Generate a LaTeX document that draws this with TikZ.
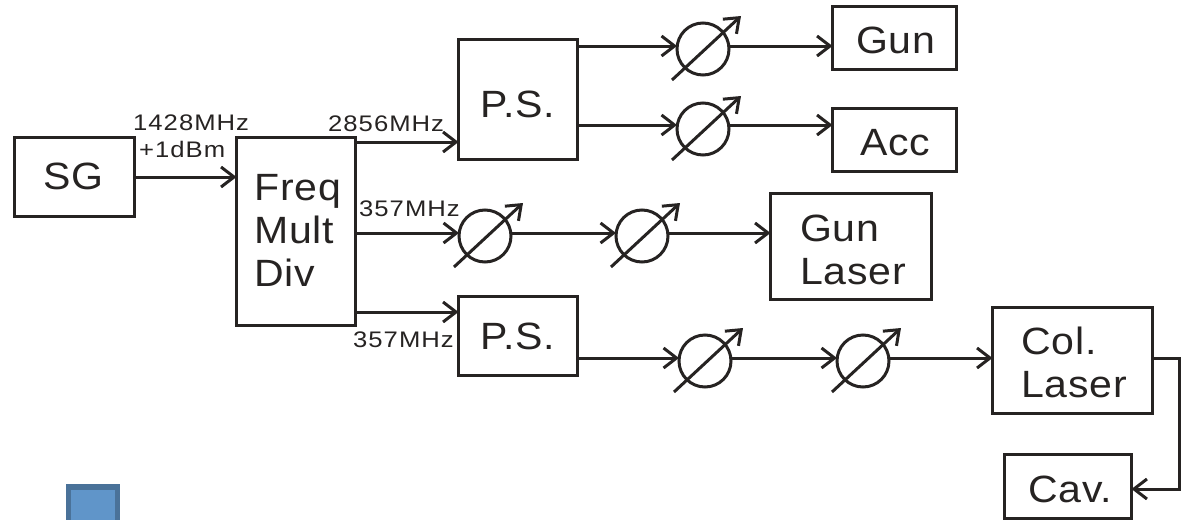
\documentclass[tikz,border=0pt]{standalone}
\usepackage{fontspec}
\setmainfont{Liberation Sans}[FakeStretch=1.08,LetterSpace=2]
\newfontfamily\labelfont{Liberation Sans}[FakeStretch=1.14,LetterSpace=4.5]
\usetikzlibrary{arrows.meta,calc}
\definecolor{ink}{HTML}{262322}
\definecolor{blueedge}{HTML}{4A7299}
\definecolor{bluefill}{HTML}{6095C9}
\tikzset{
  x=1pt,y=-1pt,
  wire/.style={draw=ink,line width=3pt,-{Straight Barb[length=13pt,width=20pt,line width=3pt]}},
  blockbox/.style={draw=ink,line width=3pt,inner sep=0pt,outer sep=0pt,anchor=north west},
  shifter/.style={draw=ink,line width=3pt,circle,inner sep=0pt,outer sep=0pt,minimum size=52pt},
  biglabel/.style={text=ink,inner sep=0pt,anchor=base west,align=left,font=\fontsize{38}{43}\selectfont},
  smalllabel/.style={text=ink,inner sep=0pt,anchor=base west,font=\labelfont\fontsize{22.5}{24}\selectfont},
}
\newcommand{\mybox}[5]{\node[blockbox,minimum width=#4pt,minimum height=#5pt] (#1) at (#2,#3) {};}
\newcommand{\myshift}[3]{%
  \node[shifter] (#1) at (#2,#3) {};
  \draw[wire] ($(#1.center)+(-31,31)$) -- ($(#1.center)+(38,-33)$);}
\begin{document}
\begin{tikzpicture}
\useasboundingbox (0,0) rectangle (1187,520);
% row levels
\coordinate (r0) at (0,177);
\coordinate (r1) at (0,46);
\coordinate (r2) at (0,125);
\coordinate (r3) at (0,142);
\coordinate (r4) at (0,233);
\coordinate (r5) at (0,312);
\coordinate (r6) at (0,358);
\coordinate (r7) at (0,489);
% boxes
\mybox{sg}{14.5}{137.5}{120}{79}
\mybox{freq}{236.5}{137.5}{119}{188}
\mybox{psa}{458.5}{39.5}{119}{120}
\mybox{psb}{458.5}{296.5}{119}{79}
\mybox{gun}{832.5}{6.5}{124}{63}
\mybox{acc}{832.5}{108.5}{124}{63}
\mybox{gl}{770.5}{193.5}{161}{106}
\mybox{cl}{992.5}{307.5}{160}{106}
\mybox{cav}{1004.5}{454.5}{127}{64}
% phase shifters
\myshift{a}{703}{49}
\myshift{b}{703}{129}
\myshift{c}{485}{236}
\myshift{d}{642}{236}
\myshift{e}{705}{361}
\myshift{f}{863}{361}
% connectors
\draw[wire] (sg.east |- r0) -- (freq.west |- r0);
\draw[wire] (freq.east |- r3) -- (psa.west |- r3);
\draw[wire] (freq.east |- r4) -- (c.west |- r4);
\draw[wire] (freq.east |- r5) -- (psb.west |- r5);
\draw[wire] (psa.east |- r1) -- (a.west |- r1);
\draw[wire] (a.east |- r1) -- (gun.west |- r1);
\draw[wire] (psa.east |- r2) -- (b.west |- r2);
\draw[wire] (b.east |- r2) -- (acc.west |- r2);
\draw[wire] (c.east |- r4) -- (d.west |- r4);
\draw[wire] (d.east |- r4) -- (gl.west |- r4);
\draw[wire] (psb.east |- r6) -- (e.west |- r6);
\draw[wire] (e.east |- r6) -- (f.west |- r6);
\draw[wire] (f.east |- r6) -- (cl.west |- r6);
\coordinate (turn) at (1179,0);
\draw[wire] (cl.east |- r6) -- (turn |- r6) -- (turn |- r7) -- (cav.east |- r7);
% labels
\node[biglabel] (tsg) at (43,189) {SG};
\node[biglabel] (tfreq) at (254,286) {Freq\\Mult\\Div};
\node[biglabel] (tpsa) at (480,117) {P.S.};
\node[biglabel] (tpsb) at (480,349) {P.S.};
\node[biglabel] (tgun) at (856,53) {Gun};
\node[biglabel] (tacc) at (860,155) {Acc};
\node[biglabel] (tgl) at (800,284) {Gun\\Laser};
\node[biglabel] (tcl) at (1021,397) {Col.\\Laser};
\node[biglabel] (tcav) at (1028,502) {Cav.};
\node[smalllabel] (l1) at (133,130) {1428MHz};
\node[smalllabel] (l2) at (139,157) {+1dBm};
\node[smalllabel] (l3) at (328,131) {2856MHz};
\node[smalllabel] (l4) at (359,216) {357MHz};
\node[smalllabel] (l5) at (353,347) {357MHz};
% blue square
\fill[blueedge] (66,484) rectangle (120,520);
\fill[bluefill] (71,490) rectangle (115,520);
\end{tikzpicture}
\end{document}
